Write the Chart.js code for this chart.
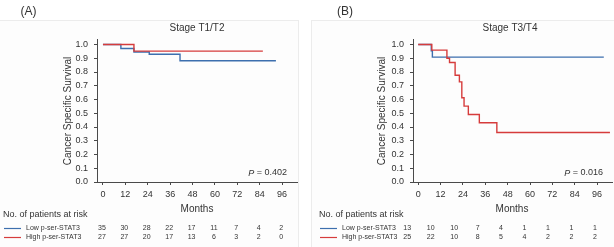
<!DOCTYPE html>
<html>
<head>
<meta charset="utf-8">
<script src="https://cdn.jsdelivr.net/npm/chart.js@4.4.1/dist/chart.umd.min.js"></script>
<style>
  html, body { margin: 0; padding: 0; background: #fff; }
  #wrap { position: relative; width: 614px; height: 247px; overflow: hidden; }
  .box { position: absolute; top: 20px; height: 240px; border: 1px solid #ececec; background: #fdfdfd; }
  canvas { position: absolute; top: 0; }
</style>
</head>
<body>
<div id="wrap">
  <div class="box" style="left:-1px;width:298px;"></div>
  <div class="box" style="left:311px;width:310px;"></div>
  <canvas id="chartA" width="307" height="247" style="left:0;"></canvas>
  <canvas id="chartB" width="307" height="247" style="left:307px;"></canvas>
</div>
<script>
// tick labels
const xTicks = [0, 12, 24, 36, 48, 60, 72, 84, 96];
const yTicks = [0, 0.1, 0.2, 0.3, 0.4, 0.5, 0.6, 0.7, 0.8, 0.9, 1.0];
const yTickLabels = ['0.0', '0.1', '0.2', '0.3', '0.4', '0.5', '0.6', '0.7', '0.8', '0.9', '1.0'];

const groupNames = ['Low p-ser-STAT3', 'High p-ser-STAT3'];

// Stage T1/T2 - survival steps (month, survival)
const monthsA_low = [0, 9.6, 16.6, 24.8, 41.3, 92.7];
const survA_low = [1, 0.971, 0.946, 0.929, 0.882, 0.882];
const monthsA_high = [0, 16.6, 85.7];
const survA_high = [1, 0.952, 0.952];
const riskA_low = [35, 30, 28, 22, 17, 11, 7, 4, 2];
const riskA_high = [27, 27, 20, 17, 13, 6, 3, 2, 0];

// Stage T3/T4
const monthsB_low = [0, 7.0, 7.6, 99.6];
const survB_low = [1, 0.955, 0.908, 0.908];
const monthsB_high = [0, 7.3, 15.4, 16.8, 19.8, 22.1, 23.4, 24.6, 26.9, 32.8, 42.2, 102.9];
const survB_high = [1, 0.959, 0.900, 0.869, 0.776, 0.728, 0.613, 0.552, 0.491, 0.431, 0.360, 0.360];
const riskB_low = [13, 10, 10, 7, 4, 1, 1, 1, 1];
const riskB_high = [25, 22, 10, 8, 5, 4, 2, 2, 2];

const BLUE = '#3d6fae';
const RED = '#d63c3c';
const TEXT = '#333333';
const AXIS = '#4a4a4a';
const FONT = '"Liberation Sans", Arial, sans-serif';

function toPoints(months, surv) {
  const out = [];
  for (let i = 0; i < months.length; i++) {
    out.push({x: months[i], y: surv[i]});
  }
  return out;
}

// draws all the text around the plot (titles, p value, risk table)
const textPlugin = {
  id: 'kmText',
  afterDraw(chart) {
    const p = chart.options.plugins.kmText;
    const ctx = chart.ctx;
    const xs = chart.scales.x;
    ctx.save();
    ctx.fillStyle = TEXT;
    ctx.textBaseline = 'middle';

    ctx.font = '12px ' + FONT;
    ctx.textAlign = 'left';
    ctx.fillText(p.label, p.labelX, 12);

    ctx.font = '10px ' + FONT;
    ctx.textAlign = 'center';
    ctx.fillText(p.title, p.titleX, 28);
    ctx.fillText('Months', p.monthsX, 209);

    ctx.save();
    ctx.translate(p.yTitleX, 111);
    ctx.rotate(-Math.PI / 2);
    ctx.fillText('Cancer Specific Survival', 0, 0);
    ctx.restore();

    // p value, italic P
    ctx.font = '9px ' + FONT;
    ctx.textAlign = 'right';
    const rest = ' = ' + p.pValue;
    ctx.fillText(rest, p.pRight, 173);
    const w = ctx.measureText(rest).width;
    ctx.font = 'italic 9px ' + FONT;
    ctx.fillText('P', p.pRight - w, 173);

    // risk table
    ctx.font = '9px ' + FONT;
    ctx.textAlign = 'left';
    ctx.fillText('No. of patients at risk', p.riskX, 215);

    const rows = [[p.riskLow, BLUE, 228.5], [p.riskHigh, RED, 237.5]];
    rows.forEach(([vals, color, y], r) => {
      ctx.strokeStyle = color;
      ctx.lineWidth = 1.2;
      ctx.beginPath();
      ctx.moveTo(p.riskX + 1, y);
      ctx.lineTo(p.riskX + 18, y);
      ctx.stroke();
      ctx.font = '7px ' + FONT;
      ctx.textAlign = 'left';
      ctx.fillText(groupNames[r], p.riskX + 23, y);
      ctx.textAlign = 'center';
      vals.forEach((v, i) => {
        const x = xs.getPixelForValue(xTicks[i]) + p.colShift + p.colGrow * i;
        ctx.fillText(String(v), x, y);
      });
    });
    ctx.restore();
  }
};

function makeChart(canvas, opt) {
  return new Chart(canvas.getContext('2d'), {
    type: 'line',
    data: {
      datasets: [
        {
          data: toPoints(opt.monthsHigh, opt.survHigh),
          borderColor: RED,
          order: 0
        },
        {
          data: toPoints(opt.monthsLow, opt.survLow),
          borderColor: BLUE,
          order: 1
        }
      ]
    },
    options: {
      responsive: false,
      animation: false,
      parsing: true,
      datasets: {
        line: {stepped: true, borderWidth: 1.4, pointRadius: 0, fill: false, tension: 0}
      },
      layout: {padding: {top: 39, right: opt.padRight, left: 0, bottom: 0}},
      plugins: {
        legend: {display: false},
        tooltip: {enabled: false},
        kmText: opt.text
      },
      scales: {
        x: {
          type: 'linear',
          min: opt.xMin,
          max: 104,
          afterBuildTicks: (s) => { s.ticks = xTicks.map(v => ({value: v})); },
          afterFit: (s) => { s.height = 65; },
          grid: {display: true, drawOnChartArea: false, drawTicks: true, tickLength: 3, color: AXIS},
          border: {display: true, color: AXIS, width: 1},
          ticks: {color: TEXT, font: {family: FONT, size: 9}, padding: 4, maxRotation: 0}
        },
        y: {
          type: 'linear',
          min: 0,
          max: 1.04,
          afterBuildTicks: (s) => { s.ticks = yTicks.map(v => ({value: v})); },
          afterFit: (s) => { s.width = opt.yWidth; },
          grid: {display: true, drawOnChartArea: false, drawTicks: true, tickLength: 3, color: AXIS},
          border: {display: true, color: AXIS, width: 1},
          ticks: {
            color: TEXT,
            font: {family: FONT, size: 9},
            padding: 6,
            callback: (v, i) => yTickLabels[i]
          }
        }
      }
    },
    plugins: [textPlugin]
  });
}

window.addEventListener('load', () => {
  makeChart(document.querySelector('#chartA'), {
    monthsLow: monthsA_low, survLow: survA_low,
    monthsHigh: monthsA_high, survHigh: survA_high,
    xMin: -3.2, yWidth: 97, padRight: 10,
    text: {
      label: '(A)', labelX: 20.5, title: 'Stage T1/T2', titleX: 197, monthsX: 197,
      yTitleX: 68, pValue: '0.402', pRight: 287, riskX: 3,
      riskLow: riskA_low, riskHigh: riskA_high, colShift: -1, colGrow: 0
    }
  });
  makeChart(document.querySelector('#chartB'), {
    monthsLow: monthsB_low, survLow: survB_low,
    monthsHigh: monthsB_high, survHigh: survB_high,
    xMin: -2.8, yWidth: 106, padRight: 2,
    text: {
      label: '(B)', labelX: 30, title: 'Stage T3/T4', titleX: 203, monthsX: 205,
      yTitleX: 75, pValue: '0.016', pRight: 296, riskX: 12,
      riskLow: riskB_low, riskHigh: riskB_high, colShift: -11, colGrow: 1.1
    }
  });
});
</script>
</body>
</html>
